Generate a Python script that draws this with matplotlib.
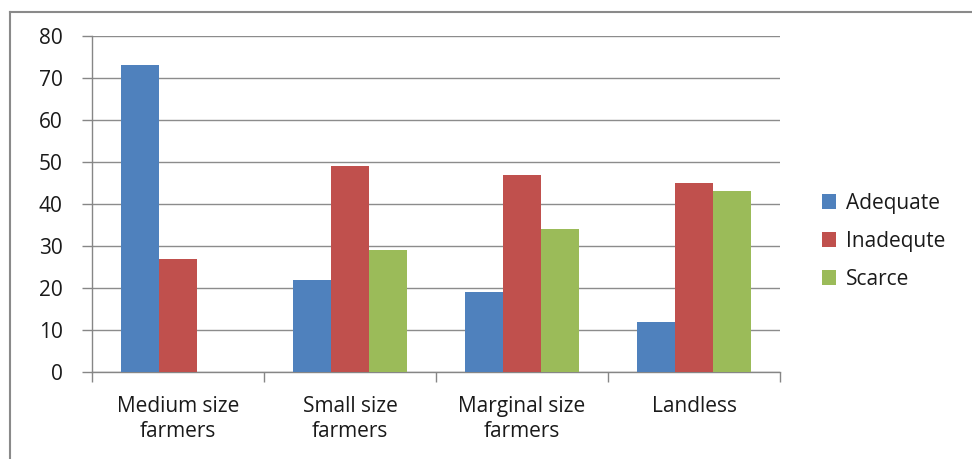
import matplotlib
matplotlib.use("Agg")
import matplotlib.pyplot as plt
import numpy as np
from matplotlib.lines import Line2D
from matplotlib.patches import Patch

categories = ["Medium size\nfarmers", "Small size\nfarmers", "Marginal size\nfarmers", "Landless"]
series_names = ["Adequate", "Inadequte", "Scarce"]
adequate = [73, 22, 19, 12]
inadequate = [27, 49, 47, 45]
scarce = [0, 29, 34, 43]
colors = ["#4F81BD", "#C0504D", "#9BBB59"]
yticks = [0, 10, 20, 30, 40, 50, 60, 70, 80]

plt.rcParams['font.family'] = ['Open Sans', 'DejaVu Sans']
FS = 15

W, H = 972, 459
fig = plt.figure(figsize=(W / 100, H / 100), dpi=100)
ax = fig.add_axes([92 / W, 1 - 372 / H, (780 - 92) / W, (372 - 36) / H])

x = np.arange(len(categories))
bw = 1 / 4.5
for i, (vals, c) in enumerate(zip([adequate, inadequate, scarce], colors)):
    ax.bar(x + (i - 1) * bw, vals, width=bw, color=c, edgecolor='none', zorder=3)

ax.set_xlim(-0.5, len(categories) - 0.5)
ax.set_ylim(0, 80)
ax.set_yticks(yticks)
ax.yaxis.grid(True, color='#8c8c8c', linewidth=1.0, zorder=0)
ax.set_axisbelow(True)

ax.set_xticks(np.arange(-0.5, len(categories), 1.0))
ax.set_xticklabels([])
ax.set_xticks(x, minor=True)
ax.set_xticklabels(categories, minor=True, fontsize=FS, color='#1a1a1a', linespacing=1.3)
ax.tick_params(axis='x', which='major', length=7, color='#868686', width=1, direction='out')
ax.tick_params(axis='x', which='minor', length=0, pad=17)
ax.tick_params(axis='y', length=7, color='#868686', width=1, labelsize=FS, labelcolor='#1a1a1a', pad=14)

for s in ['top', 'right']:
    ax.spines[s].set_visible(False)
for s in ['left', 'bottom']:
    ax.spines[s].set_color('#868686')
    ax.spines[s].set_linewidth(1)

handles = [Patch(facecolor=c, edgecolor='none') for c in colors]
fig.legend(handles, series_names, loc='upper left', bbox_to_anchor=(803 / W, 1 - 174 / H),
           frameon=False, fontsize=FS, handlelength=0.7, handleheight=0.7,
           handletextpad=0.45, labelspacing=0.82, labelcolor='#1a1a1a')

fig.add_artist(Line2D([10 / W, 10 / W], [0, 1 - 12 / H], transform=fig.transFigure, color='#8a8a8a', lw=1.5))
fig.add_artist(Line2D([10 / W, 1], [1 - 12 / H, 1 - 12 / H], transform=fig.transFigure, color='#8a8a8a', lw=1.5))

fig.savefig("out.png", dpi=100)
